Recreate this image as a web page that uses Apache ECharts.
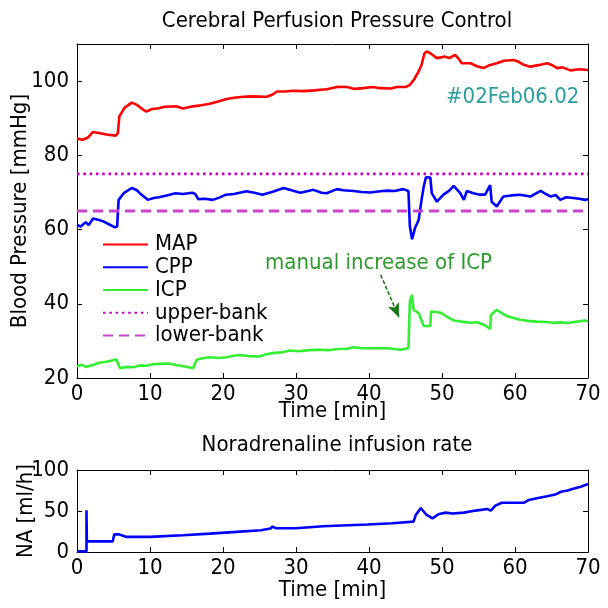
<!DOCTYPE html>
<html><head><meta charset="utf-8">
<script src="https://cdn.jsdelivr.net/npm/echarts@6/dist/echarts.min.js"></script>
<style>html,body{margin:0;padding:0;background:#fff}#c{width:608px;height:608px}</style>
</head><body><div id="c"></div>
<script>
var timeTicks = [0,10,20,30,40,50,60,70];
var upperBank = 75, lowerBank = 65;
var mapData = [[0,84.5],[0.8,84.2],[1.5,84.8],[2.2,86.3],[3,86.0],[4,85.6],[5.3,85.3],[5.6,86],[5.8,90.5],[6.5,92.8],[7.5,94.2],[8.2,93.6],[9,92.4],[9.5,91.8],[10.3,92.5],[11.2,92.7],[12,93.1],[13.6,93.2],[14.5,92.6],[15.9,93.2],[17,93.5],[18.2,93.9],[19.3,94.5],[20.5,95.2],[21.5,95.5],[22.8,95.8],[24,95.9],[26,95.8],[26.8,96.4],[27.4,97.2],[28.5,97.2],[29.6,97.4],[31,97.3],[32.5,97.5],[34.2,97.8],[35.8,98.5],[37,98.4],[38,97.9],[39.2,98.1],[40.5,98.4],[41.5,98.1],[43,98.0],[43.8,98.4],[45,98.4],[45.6,99],[46.2,100.5],[46.8,102.6],[47.2,104.4],[47.6,107.5],[47.9,108],[48.4,107.5],[49.3,106.2],[50.4,106.6],[51,106.2],[51.8,107.1],[52.3,106],[52.7,104.8],[53.9,104.8],[54.8,104],[55.7,103.5],[56.5,104.3],[57.5,104.8],[58.5,105.5],[59.8,105.7],[60.5,105.2],[61.2,104.4],[62.1,103.9],[63.2,104.3],[64.4,104.8],[65.2,104.2],[65.8,103.5],[66.5,103.7],[67.6,102.9],[68.8,103.2],[70,103]];
var cppData = [[0,61.3],[0.5,60.8],[1.2,62],[1.6,61.2],[2.2,63],[3,62.6],[3.6,62.2],[4.5,61.3],[5.2,60.6],[5.5,60.8],[5.7,68],[6.4,69.8],[7.5,71.2],[8.2,70.6],[8.6,69.8],[9.7,68],[10.5,68.5],[11.2,68.7],[12.3,69.2],[13.5,69.8],[14.5,69.6],[15.8,69.9],[16.2,69.6],[16.6,68.2],[17.5,68.3],[18.6,68],[19.5,68.6],[20.4,69.4],[21.5,69.6],[23.2,70.3],[24.3,69.9],[25.4,69.4],[26.8,70.2],[28.3,71.2],[29.5,70.5],[30.6,69.9],[31.5,70.3],[32.4,70.7],[33.5,69.9],[34.2,69.8],[35.6,70.9],[36.5,70.6],[37.9,70.4],[39,70.1],[40.2,70],[41.5,70.3],[42.5,70.5],[43.5,70.4],[44.7,70.9],[45.4,70.4],[45.6,60.8],[45.9,57.4],[46.3,60.4],[46.8,62.6],[47.2,68],[47.5,71.6],[47.8,74.1],[48.4,74],[48.6,69.8],[49.3,67.5],[50.2,69.4],[51,70.5],[51.6,71.8],[52.5,69.8],[53,68],[53.4,70.4],[54.3,69.8],[55.2,69.4],[55.9,69.4],[56.6,72],[56.8,67.5],[57.5,66.2],[58.4,68.9],[59.5,69.2],[60.7,69.4],[62.1,68.9],[63.5,70.4],[64.2,69.6],[64.9,68.9],[65.6,69.3],[66.2,68],[67,68.7],[68,68.5],[68.8,68.3],[69.6,68],[70,68.2]];
var icpData = [[0,23.1],[0.6,23.6],[1.2,23],[2.2,23.5],[3,24.1],[4,24.4],[5.4,25],[5.9,22.6],[6.8,23],[7.7,22.9],[8.6,23.4],[9.5,23.3],[10.4,23.7],[11.3,23.8],[12.5,23.9],[13.6,23.5],[14.8,23.1],[15.9,22.6],[16.4,24.9],[17.2,25.3],[18.2,25.6],[19.4,25.4],[20.5,25.6],[21.4,26],[22.3,26.2],[23.6,25.9],[25,25.8],[25.9,26.4],[26.8,26.7],[28,26.9],[29.1,27.4],[30.4,27.2],[31.8,27.5],[33.2,27.6],[34.5,27.5],[35.7,27.8],[37,27.9],[37.9,28.3],[39,28],[40.2,28],[41.3,28.1],[42.5,28],[43.5,27.8],[44.3,27.6],[45.4,28],[45.6,40.6],[45.9,42.4],[46.1,38.4],[46.8,37.5],[47.5,34],[48.4,34],[48.5,37.9],[49.2,37.8],[49.8,37.6],[50.7,36.5],[51.6,35.5],[52.7,35.2],[53.9,34.9],[54.8,35],[55.8,34.3],[56.6,33.2],[56.7,37],[57.5,38.4],[58.2,37.5],[58.9,36.7],[59.8,36.2],[60.7,35.7],[61.8,35.4],[63,35.2],[64.2,35.1],[65.3,34.9],[66.3,35],[67.2,34.8],[68.5,35.2],[69.6,35.5],[70,35.3]];
var naData = [[0,0.8],[1.3,0.8],[1.3,51],[1.35,13],[4.9,13],[5.1,21.5],[5.8,21.5],[6.2,20],[6.8,18.4],[10,18.4],[10.2,20.4],[14.5,20.4],[14.6,22.4],[18.2,22.4],[18.3,24.5],[21.8,24.5],[21.9,26.5],[25.2,26.5],[25.3,28.6],[26.5,28.6],[26.8,31],[27.2,29],[30,29],[30.1,31.4],[33.7,31.4],[33.8,33.5],[39.8,33.5],[39.9,35],[43.2,35],[43.3,37],[46.1,37],[46.4,45],[47.1,53.5],[47.8,46],[48.7,41],[49.5,46],[50.5,48],[51.4,47],[53,48],[54.6,50.5],[56.2,52.5],[56.7,50.5],[57.3,56.5],[58.2,60],[61.2,60],[61.9,63.5],[63,65.5],[64.4,68],[65.5,70],[66.3,73.5],[67.2,75],[68.1,77.5],[69,79.5],[70,83]];
var arrowFrom = [41.6, 47.8], arrowTo = [44.1, 36.4];

var FONT = "'Liberation Sans Narrow','Arial Narrow','DejaVu Sans Condensed',sans-serif";
var FS = 22;
var chart = echarts.init(document.getElementById('c'), null, {renderer:'canvas'});
function xAx(grid, pos, labels, name, gap){
  return {type:'value', gridIndex:grid, position:pos, min:0, max:70, interval:10,
    axisLine:{show:true, onZero:false, lineStyle:{color:'#000', width:1}},
    axisTick:{show:true, inside:true, length:5, lineStyle:{color:'#000'}},
    axisLabel:{show:labels, color:'#000', fontFamily:FONT, fontSize:FS, margin:5},
    splitLine:{show:false},
    name:name||'', nameLocation:'middle', nameGap:gap||30, nameMoveOverlap:false,
    nameTextStyle:{color:'#000', fontFamily:FONT, fontSize:FS}};
}
function yAx(grid, pos, labels, min, max, intv, name, gap){
  return {type:'value', gridIndex:grid, position:pos, min:min, max:max, interval:intv,
    axisLine:{show:true, onZero:false, lineStyle:{color:'#000', width:1}},
    axisTick:{show:true, inside:true, length:5, lineStyle:{color:'#000'}},
    axisLabel:{show:labels, color:'#000', fontFamily:FONT, fontSize:FS, margin:8, showMaxLabel: max===100},
    splitLine:{show:false},
    name:name||'', nameLocation:'middle', nameGap:gap||40, nameRotate:90, nameMoveOverlap:false,
    nameTextStyle:{color:'#000', fontFamily:FONT, fontSize:FS}};
}
var option = {
  backgroundColor:'#fff',
  animation:false,
  title:[
    {text:'Cerebral Perfusion Pressure Control', left:332, top:5, textAlign:'center',
     textStyle:{fontFamily:FONT, fontSize:FS, fontWeight:'normal', color:'#000'}},
    {text:'Noradrenaline infusion rate', left:332, top:429, textAlign:'center',
     textStyle:{fontFamily:FONT, fontSize:FS, fontWeight:'normal', color:'#000'}}
  ],
  grid:[{left:77, top:44, width:511, height:334, outerBoundsMode:'none', containLabel:false},
        {left:77, top:470, width:511, height:82, outerBoundsMode:'none', containLabel:false}],
  xAxis:[xAx(0,'bottom',true,'Time [min]',22), xAx(0,'top',false), xAx(1,'bottom',true,'Time [min]',27), xAx(1,'top',false)],
  yAxis:[yAx(0,'left',true,20,110,20,'Blood Pressure [mmHg]',46), yAx(0,'right',false,20,110,20),
         yAx(1,'left',true,0,100,50,'NA [ml/h]',40), yAx(1,'right',false,0,100,50)],
  legend:{left:97, top:228, orient:'vertical', itemWidth:45, itemHeight:14, itemGap:0,
    itemStyle:{opacity:0},
    textStyle:{fontFamily:FONT, fontSize:FS, color:'#000', lineHeight:22.8, padding:[0,0,0,2]},
    data:['MAP','CPP','ICP','upper-bank','lower-bank']},
  series:[
    {name:'MAP', type:'line', xAxisIndex:0, yAxisIndex:0, data:mapData, showSymbol:false, symbol:'none',
     lineStyle:{color:'#ff0000', width:2.6}, itemStyle:{color:'#ff0000'}},
    {name:'CPP', type:'line', xAxisIndex:0, yAxisIndex:0, data:cppData, showSymbol:false, symbol:'none',
     lineStyle:{color:'#0000ff', width:2.6}, itemStyle:{color:'#0000ff'}},
    {name:'ICP', type:'line', xAxisIndex:0, yAxisIndex:0, data:icpData, showSymbol:false, symbol:'none',
     lineStyle:{color:'#33ee33', width:2.6}, itemStyle:{color:'#33ee33'},
     markLine:{silent:true, symbol:['none','arrow'], symbolSize:[9,14], label:{show:false},
       lineStyle:{color:'#117711', width:1.5, type:[4,2]},
       data:[[{coord:arrowFrom},{coord:arrowTo}]]}},
    {name:'upper-bank', type:'line', xAxisIndex:0, yAxisIndex:0, data:[[0,upperBank],[70,upperBank]], showSymbol:false, symbol:'none',
     lineStyle:{color:'#c400c4', width:2.6, type:[2.6,3.7]}, itemStyle:{color:'#c400c4'}},
    {name:'lower-bank', type:'line', xAxisIndex:0, yAxisIndex:0, data:[[0,lowerBank],[70,lowerBank]], showSymbol:false, symbol:'none',
     lineStyle:{color:'#cc44cc', width:2.8, type:[10,6]}, itemStyle:{color:'#cc44cc'}},
    {name:'NA', type:'line', xAxisIndex:2, yAxisIndex:2, data:naData, showSymbol:false, symbol:'none',
     lineStyle:{color:'#0000ff', width:2.6}, itemStyle:{color:'#0000ff'}}
  ],
  graphic:[
    {type:'text', left:446, top:86, style:{text:'#02Feb06.02', fill:'#2a9d9d', font:FS+'px '+FONT}},
    {type:'text', left:265, top:252, style:{text:'manual increase of ICP', fill:'#2e9a2e', font:FS+'px '+FONT}}
  ]
};
chart.setOption(option);
</script></body></html>
